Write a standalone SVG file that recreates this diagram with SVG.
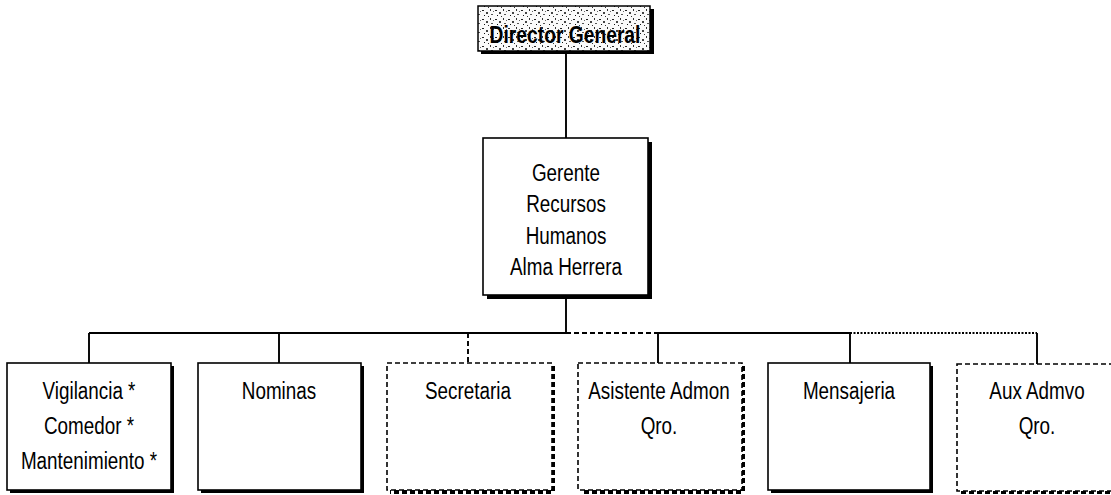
<svg xmlns="http://www.w3.org/2000/svg" width="1111" height="495" viewBox="0 0 1111 495">
  <style>
    .box { fill: #fff; stroke: #000; stroke-width: 1.6; }
    .dbox { fill: #fff; stroke: #000; stroke-width: 1.6; stroke-dasharray: 5 3; }
    .shadow { fill: #000; }
    .dshadow { fill: none; stroke: #000; stroke-width: 4; stroke-dasharray: 5 3; }
    .t { font-family: "Liberation Sans", Arial, sans-serif; font-size: 23px; fill: #000; text-anchor: middle; }
    .tb { font-family: "Liberation Sans", Arial, sans-serif; font-size: 23.5px; font-weight: bold; fill: #000; text-anchor: middle; }
    .ln { stroke: #000; stroke-width: 1.9; fill: none; }
    .dash { stroke: #000; stroke-width: 1.9; fill: none; stroke-dasharray: 5 3; }
    .dot { stroke: #000; stroke-width: 1.9; fill: none; stroke-dasharray: 2 1.5; }
  </style>
  <defs>
    <pattern id="speckle" width="13" height="9" patternUnits="userSpaceOnUse">
      <rect width="13" height="9" fill="#fafafa"/>
      <rect x="1" y="1" width="2" height="1" fill="#222"/>
      <rect x="5" y="3" width="2" height="2" fill="#444"/>
      <rect x="9" y="0" width="1" height="2" fill="#333"/>
      <rect x="3" y="6" width="1" height="1" fill="#111"/>
      <rect x="10" y="5" width="2" height="1" fill="#555"/>
      <rect x="7" y="7" width="1" height="1" fill="#333"/>
      <rect x="12" y="2" width="1" height="1" fill="#666"/>
    </pattern>
  </defs>
  <rect width="1111" height="495" fill="#fff"/>

  <g id="connectors">
    <line class="ln" x1="566" y1="52" x2="566" y2="138"/>
    <line class="ln" x1="566" y1="296" x2="566" y2="333"/>
    <line class="ln" x1="89" y1="333" x2="566" y2="333"/>
    <line class="dash" x1="566" y1="333" x2="658" y2="333"/>
    <line class="ln" x1="658" y1="333" x2="850" y2="333"/>
    <line class="dot" x1="850" y1="333" x2="1037" y2="333"/>
    <line class="ln" x1="89" y1="333" x2="89" y2="363"/>
    <line class="ln" x1="279" y1="333" x2="279" y2="363"/>
    <line class="dash" x1="468" y1="333" x2="468" y2="363"/>
    <line class="ln" x1="658" y1="333" x2="658" y2="363"/>
    <line class="ln" x1="850" y1="333" x2="850" y2="363"/>
    <line class="ln" x1="1037" y1="333" x2="1037" y2="364"/>
  </g>

  <g id="director">
    <rect class="shadow" x="481" y="9" width="173" height="45"/>
    <rect x="478" y="6" width="172" height="45" fill="url(#speckle)" stroke="#000" stroke-width="1.5"/>
    <text class="tb" transform="translate(565,43) scale(0.82,1)">Director General</text>
  </g>

  <g id="gerente">
    <rect class="shadow" x="487" y="142" width="165" height="157"/>
    <rect class="box" x="483" y="138" width="165" height="157"/>
    <text class="t" transform="translate(566,181) scale(0.82,1)">Gerente</text>
    <text class="t" transform="translate(566,212) scale(0.82,1)">Recursos</text>
    <text class="t" transform="translate(566,244) scale(0.82,1)">Humanos</text>
    <text class="t" transform="translate(566,275) scale(0.82,1)">Alma Herrera</text>
  </g>

  <g id="vigilancia">
    <rect class="shadow" x="10" y="366" width="164" height="127"/>
    <rect class="box" x="7" y="363" width="164" height="127"/>
    <text class="t" transform="translate(89,399) scale(0.82,1)">Vigilancia *</text>
    <text class="t" transform="translate(89,434) scale(0.82,1)">Comedor *</text>
    <text class="t" transform="translate(89,469) scale(0.82,1)">Mantenimiento *</text>
  </g>

  <g id="nominas">
    <rect class="shadow" x="201" y="366" width="163" height="127"/>
    <rect class="box" x="198" y="363" width="163" height="127"/>
    <text class="t" transform="translate(279,399) scale(0.82,1)">Nominas</text>
  </g>

  <g id="secretaria">
    <polyline class="dshadow" points="553,366 553,492 390,492"/>
    <rect class="dbox" x="387" y="363" width="165" height="127"/>
    <text class="t" transform="translate(468,399) scale(0.82,1)">Secretaria</text>
  </g>

  <g id="asistente">
    <polyline class="dshadow" points="743,366 743,492 581,492"/>
    <rect class="dbox" x="578" y="363" width="164" height="127"/>
    <text class="t" transform="translate(659,399) scale(0.82,1)">Asistente Admon</text>
    <text class="t" transform="translate(659,434) scale(0.82,1)">Qro.</text>
  </g>

  <g id="mensajeria">
    <rect class="shadow" x="771" y="366" width="162" height="127"/>
    <rect class="box" x="768" y="363" width="162" height="127"/>
    <text class="t" transform="translate(849,399) scale(0.82,1)">Mensajeria</text>
  </g>

  <g id="auxadmvo">
    <polyline class="dshadow" points="1121,367 1121,492 960,492"/>
    <rect class="dbox" x="957" y="364" width="162" height="127"/>
    <text class="t" transform="translate(1037,399) scale(0.82,1)">Aux Admvo</text>
    <text class="t" transform="translate(1037,434) scale(0.82,1)">Qro.</text>
  </g>
</svg>
